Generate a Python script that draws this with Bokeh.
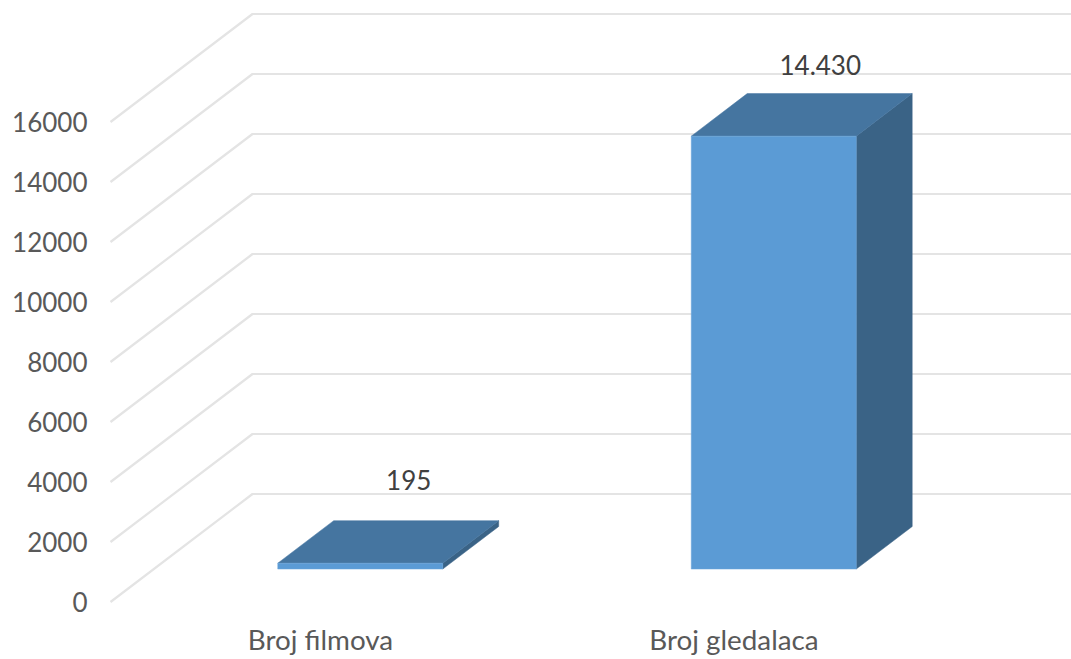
from bokeh.plotting import figure
from bokeh.models import FixedTicker, ColumnDataSource
from bokeh.core.properties import value
from bokeh.embed import file_html
from bokeh.resources import INLINE

categories = ["Broj filmova", "Broj gledalaca"]
viewers_films = [195, 14430]
value_labels = ["195", "14.430"]
y_ticks = [0, 2000, 4000, 6000, 8000, 10000, 12000, 14000, 16000]

# Office-style oblique 3D projection, expressed in data units
PX_X = 413.5        # pixels per category
PX_Y = 0.03         # pixels per value unit
DEPTH_X = 142 / PX_X
DEPTH_Y = 108 / PX_Y
BAR_W = 165 / PX_X
D_FRONT_X = 0.28
D_FRONT_Y = 0.305
D_SIZE = 0.394

FONT = "Lato"
W, H = 1071, 659
L, B = 100, 49
X0_PX, Y0_PX = 320, 601.5

p = figure(width=W, height=H, output_backend="svg", toolbar_location=None,
           x_range=((L - X0_PX) / PX_X, (W - X0_PX) / PX_X),
           y_range=(-(H - B - Y0_PX) / PX_Y, Y0_PX / PX_Y),
           min_border_left=L, min_border_right=0, min_border_top=0, min_border_bottom=B,
           outline_line_color=None, background_fill_color="white", border_fill_color="white")
p.grid.visible = False

# axes
p.yaxis.ticker = FixedTicker(ticks=y_ticks)
p.xaxis.ticker = FixedTicker(ticks=list(range(len(categories))))
p.xaxis.major_label_overrides = {i: c for i, c in enumerate(categories)}
for ax in (p.xaxis, p.yaxis):
    ax.axis_line_color = None
    ax.major_tick_line_color = None
    ax.minor_tick_line_color = None
    ax.major_tick_out = 0
    ax.major_tick_in = 0
    ax.major_label_text_font = FONT
    ax.major_label_text_color = "#595959"
p.yaxis.major_label_text_font_size = "26px"
p.xaxis.major_label_text_font_size = "27.8px"
p.yaxis.major_label_standoff = 13
p.xaxis.major_label_standoff = 12

# gridlines: along the side wall, then along the back wall
left = (110 - X0_PX) / PX_X
xs, ys = [], []
for v in y_ticks:
    xs.append([left, left + DEPTH_X, (W + 5 - X0_PX) / PX_X])
    ys.append([v, v + DEPTH_Y, v + DEPTH_Y])
p.multi_line(xs, ys, line_color="#e4e4e4", line_width=2.2)

# bars
front_l, front_r, bases, tops = [], [], [], []
for i, val in enumerate(viewers_films):
    x1 = i - BAR_W / 2 + D_FRONT_X * DEPTH_X
    x2 = x1 + BAR_W
    y1 = D_FRONT_Y * DEPTH_Y
    y2 = y1 + val
    front_l.append(x1); front_r.append(x2); bases.append(y1); tops.append(y2)

dx = D_SIZE * DEPTH_X
dy = D_SIZE * DEPTH_Y
p.patches([[r, r + dx, r + dx, r] for r in front_r],
          [[b, b + dy, t + dy, t] for b, t in zip(bases, tops)],
          fill_color="#3a6386", line_color="#3a6386", line_width=0.5)
p.patches([[l, l + dx, r + dx, r] for l, r in zip(front_l, front_r)],
          [[t, t + dy, t + dy, t] for t in tops],
          fill_color="#4575a0", line_color="#4575a0", line_width=0.5)
p.quad(left=front_l, right=front_r, bottom=bases, top=tops,
       fill_color="#5b9bd5", line_color="#6ba5da", line_width=0.5)

# value labels
src = ColumnDataSource(dict(
    x=[l + BAR_W / 2 + dx / 2 for l in front_l],
    y=[t + dy for t in tops],
    text=value_labels,
    xo=[20.5, 18.5],
    yo=[-41, -29],
))
p.text(x="x", y="y", text="text", source=src, x_offset="xo", y_offset="yo",
       text_align="center", text_baseline="middle",
       text_font=value(FONT), text_font_size="26px", text_color="#404040")

open("out.html", "w").write(file_html(p, INLINE))
